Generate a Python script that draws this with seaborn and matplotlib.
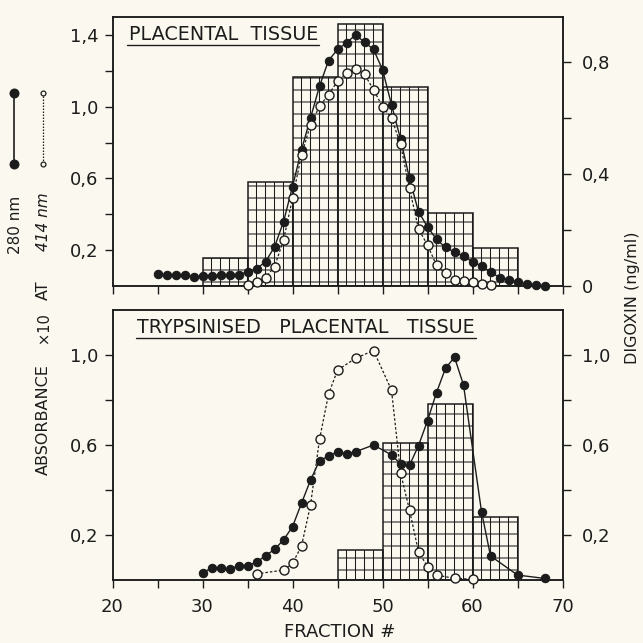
import matplotlib
matplotlib.use("Agg")
import matplotlib.pyplot as plt
import seaborn as sns
import pandas as pd
from matplotlib.lines import Line2D

# ---------------- data ----------------
top_frac_280 = list(range(25, 69))
top_abs_280 = [0.065, 0.064, 0.060, 0.060, 0.052, 0.056, 0.056, 0.060, 0.064, 0.064,
               0.078, 0.096, 0.135, 0.218, 0.358, 0.554, 0.760, 0.937, 1.114, 1.257,
               1.319, 1.356, 1.400, 1.360, 1.319, 1.207, 1.011, 0.820, 0.600, 0.414,
               0.330, 0.260, 0.215, 0.190, 0.166, 0.135, 0.112, 0.079, 0.047, 0.036,
               0.023, 0.010, 0.005, 0.000]
top_frac_414 = list(range(35, 63))
top_abs_414 = [0.004, 0.023, 0.047, 0.107, 0.256, 0.489, 0.731, 0.899, 1.002, 1.067,
               1.142, 1.188, 1.210, 1.180, 1.095, 1.000, 0.937, 0.790, 0.545, 0.318,
               0.228, 0.116, 0.070, 0.036, 0.027, 0.023, 0.010, 0.005]
top_bin_edges = [30, 35, 40, 45, 50, 55, 60, 65]
top_digoxin = [0.100, 0.372, 0.745, 0.934, 0.710, 0.260, 0.135]

bot_frac_280 = list(range(30, 48)) + [49, 51, 52, 53, 54, 55, 56, 57, 58, 59, 61, 62, 65, 68]
bot_abs_280 = [0.033, 0.052, 0.052, 0.047, 0.064, 0.064, 0.079, 0.108, 0.136, 0.178,
               0.237, 0.341, 0.444, 0.530, 0.551, 0.570, 0.560, 0.570, 0.600, 0.556,
               0.516, 0.510, 0.597, 0.708, 0.833, 0.941, 0.990, 0.867, 0.304, 0.107,
               0.022, 0.007]
bot_frac_414 = [36, 39, 40, 41, 42, 43, 44, 45, 47, 49, 51, 52, 53, 54, 55, 56, 58, 60]
bot_abs_414 = [0.027, 0.044, 0.074, 0.151, 0.333, 0.625, 0.825, 0.933, 0.985, 1.020,
               0.844, 0.477, 0.311, 0.126, 0.059, 0.022, 0.007, 0.004]
bot_bin_edges = [45, 50, 55, 60, 65]
bot_digoxin = [0.133, 0.610, 0.782, 0.279]

x_ticks = [20, 25, 30, 35, 40, 45, 50, 55, 60, 65, 70]
x_tick_labels = ["20", "", "30", "", "40", "", "50", "", "60", "", "70"]
top_left_ticks = [0.2, 0.4, 0.6, 0.8, 1.0, 1.2, 1.4]
top_left_labels = ["0,2", "", "0,6", "", "1,0", "", "1,4"]
top_right_ticks = [0.0, 0.2, 0.4, 0.6, 0.8]
top_right_labels = ["0", "", "0,4", "", "0,8"]
bot_ticks = [0.2, 0.4, 0.6, 0.8, 1.0]
bot_labels = ["0,2", "", "0,6", "", "1,0"]

# ---------------- style ----------------
DPI = 216              # chosen so the hatch grid cells come out ~9 x 12 px
K = 100.0 / DPI        # sizes below are designed in "100 dpi points"
BG = "#fbf9ef"
INK = "#1c1c1c"
sns.set_theme(style="ticks")
plt.rcParams["font.family"] = ["DejaVu Sans"]
plt.rcParams["hatch.color"] = INK
plt.rcParams["hatch.linewidth"] = 0.75 * K
plt.rcParams["axes.edgecolor"] = INK

W = 643.0
fig = plt.figure(figsize=(W / DPI, W / DPI), dpi=DPI, facecolor=BG)

def fx(px):
    return px / W

def fy(py):
    return 1 - py / W

X0, X1 = 112.5, 562.5
ax_top_h = fig.add_axes([fx(X0), fy(286), fx(X1) - fx(X0), fy(17) - fy(286)])
ax_bot_h = fig.add_axes([fx(X0), fy(580), fx(X1) - fx(X0), fy(310) - fy(580)])
ax_top_h.set_facecolor(BG)
ax_bot_h.set_facecolor(BG)
ax_top_l = ax_top_h.twinx()
ax_bot_l = ax_bot_h.twinx()

def draw_hist(ax, edges, heights):
    centers = [(a + b) / 2 for a, b in zip(edges[:-1], edges[1:])]
    sns.histplot(x=centers, weights=heights, bins=edges, ax=ax, stat="count",
                 fill=True, facecolor="none", edgecolor=INK, linewidth=1.1 * K,
                 hatch="||||---", zorder=1)

def draw_lines(ax, f280, a280, f414, a414):
    d280 = pd.DataFrame({"fraction": f280, "abs": a280})
    d414 = pd.DataFrame({"fraction": f414, "abs": a414})
    sns.lineplot(data=d280, x="fraction", y="abs", ax=ax, color=INK, linewidth=1.0 * K,
                 marker="o", markersize=6 * K, markerfacecolor=INK, markeredgecolor=INK,
                 markeredgewidth=0.8 * K, estimator=None, sort=False, clip_on=False, zorder=3)
    sns.lineplot(data=d414, x="fraction", y="abs", ax=ax, color=INK, linewidth=0.9 * K,
                 linestyle=(0, (2, 1.6)), marker="o", markersize=6.5 * K,
                 markerfacecolor=BG, markeredgecolor=INK, markeredgewidth=1.0 * K,
                 estimator=None, sort=False, clip_on=False, zorder=4)

draw_hist(ax_top_h, top_bin_edges, top_digoxin)
draw_hist(ax_bot_h, bot_bin_edges, bot_digoxin)
draw_lines(ax_top_l, top_frac_280, top_abs_280, top_frac_414, top_abs_414)
draw_lines(ax_bot_l, bot_frac_280, bot_abs_280, bot_frac_414, bot_abs_414)

TICK_FS = 13 * K
for axh, axl in [(ax_top_h, ax_top_l), (ax_bot_h, ax_bot_l)]:
    axh.set_xlim(20, 70)
    axh.set_xlabel("")
    axh.set_ylabel("")
    axl.set_xlabel("")
    axl.set_ylabel("")
    axh.yaxis.tick_right()
    axl.yaxis.tick_left()
    for ax in (axh, axl):
        for s in ax.spines.values():
            s.set_linewidth(1.1 * K)
            s.set_color(INK)
            s.set_visible(True)
        ax.tick_params(axis="both", direction="out", length=6 * K, width=1.0 * K,
                       labelsize=TICK_FS, colors=INK, pad=4 * K)
    axh.set_xticks(x_ticks)

ax_top_h.set_ylim(0, 0.96)
ax_top_l.set_ylim(0, 1.5)
ax_bot_h.set_ylim(0, 1.2)
ax_bot_l.set_ylim(0, 1.2)

ax_top_h.set_xticklabels([""] * len(x_ticks))
ax_bot_h.set_xticklabels(x_tick_labels)
ax_bot_h.tick_params(axis="x", pad=7 * K)

ax_top_l.set_yticks(top_left_ticks, top_left_labels)
ax_top_h.set_yticks(top_right_ticks, top_right_labels)
ax_bot_l.set_yticks(bot_ticks, bot_labels)
ax_bot_h.set_yticks(bot_ticks, bot_labels)
ax_top_h.tick_params(axis="y", pad=8 * K)
ax_bot_h.tick_params(axis="y", pad=8 * K)

# panel titles with underline
TITLE_FS = 13.8 * K
t1 = ax_top_l.text(0.036, 0.972, "PLACENTAL  TISSUE", transform=ax_top_l.transAxes,
                   ha="left", va="top", fontsize=TITLE_FS, color=INK, zorder=6)
t2 = ax_bot_l.text(0.055, 0.972, "TRYPSINISED   PLACENTAL   TISSUE", transform=ax_bot_l.transAxes,
                   ha="left", va="top", fontsize=TITLE_FS, color=INK, zorder=6)
fig.canvas.draw()
for t, ax in [(t1, ax_top_l), (t2, ax_bot_l)]:
    bb = t.get_window_extent().transformed(ax.transAxes.inverted())
    ax.add_line(Line2D([bb.x0 - 0.003, bb.x1 + 0.003], [bb.y0 - 0.006, bb.y0 - 0.006],
                       transform=ax.transAxes, color=INK, linewidth=1.0 * K, clip_on=False))

# axis titles
fig.text(fx(340), fy(632), "FRACTION #", ha="center", va="center", fontsize=13 * K, color=INK)
fig.text(fx(632), fy(298), "DIGOXIN (ng/ml)", ha="center", va="center", rotation=90,
         fontsize=11.5 * K, color=INK)

# left legend-like label block
fig.add_artist(Line2D([fx(14), fx(14)], [fy(93), fy(164)], color=INK, linewidth=1.2 * K,
                      marker="o", markersize=5 * K, markerfacecolor=INK, markeredgecolor=INK))
fig.add_artist(Line2D([fx(43), fx(43)], [fy(93), fy(164)], color=INK, linewidth=0.9 * K,
                      linestyle=(0, (1.2, 1.2)), marker="o", markersize=3.5 * K,
                      markerfacecolor=BG, markeredgecolor=INK, markeredgewidth=0.9 * K))
fig.text(fx(15), fy(225), "280 nm", rotation=90, ha="center", va="center", fontsize=11 * K, color=INK)
fig.text(fx(43), fy(222), "414 nm", rotation=90, ha="center", va="center", fontsize=11 * K,
         color=INK, style="italic")
fig.text(fx(43), fy(290), "AT", rotation=90, ha="center", va="center", fontsize=11.5 * K, color=INK)
fig.text(fx(43), fy(328), "×10", rotation=90, ha="center", va="center", fontsize=10.5 * K, color=INK)
fig.text(fx(43), fy(420), "ABSORBANCE", rotation=90, ha="center", va="center", fontsize=11.5 * K, color=INK)

fig.savefig("out.png", dpi=DPI, facecolor=BG)
